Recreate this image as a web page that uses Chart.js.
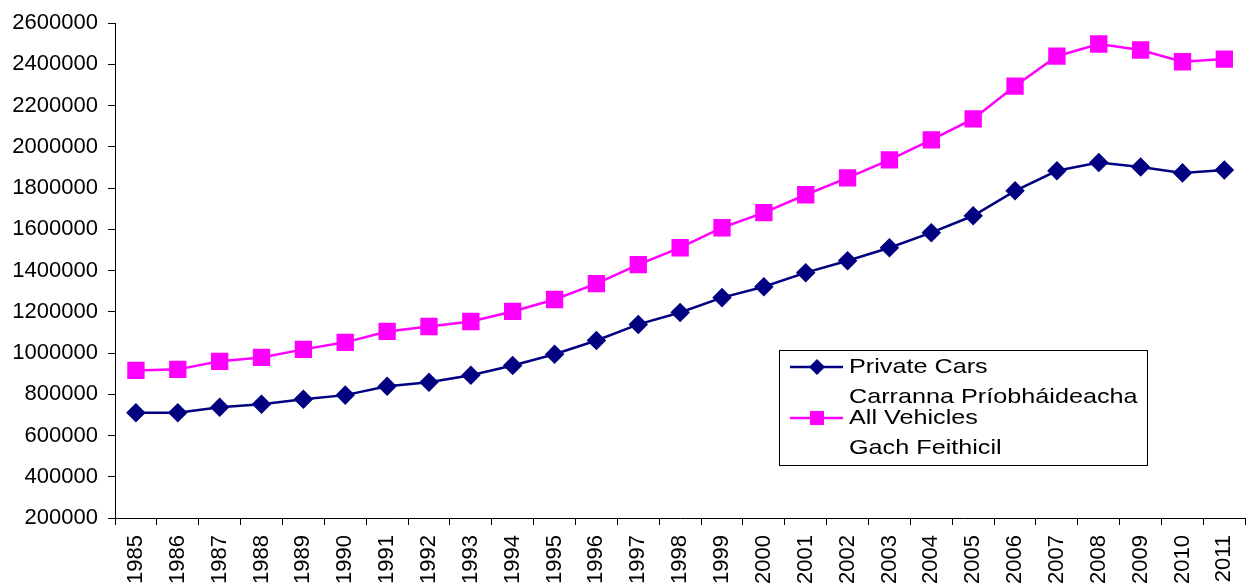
<!DOCTYPE html>
<html>
<head>
<meta charset="utf-8">
<script src="https://cdn.jsdelivr.net/npm/chart.js@4/dist/chart.umd.min.js"></script>
<style>
  html, body { margin: 0; padding: 0; background: #fff; overflow: hidden; width: 1246px; height: 588px; }
  canvas { display: block; }
</style>
</head>
<body>
<!-- a bit wider than the window: the plot runs right up to the edge -->
<canvas id="chart" width="1261" height="588"></canvas>
<script>
// ── data ─────────────────────────────────────────────
const years = ['1985','1986','1987','1988','1989','1990','1991','1992','1993','1994',
               '1995','1996','1997','1998','1999','2000','2001','2002','2003','2004',
               '2005','2006','2007','2008','2009','2010','2011'];

const privateCars = [711000, 711000, 737000, 752000, 776000, 796000, 839000, 858000, 892000, 940000,
                     994000, 1061000, 1139000, 1197000, 1269000, 1322000, 1390000, 1448000, 1511000, 1584000,
                     1666000, 1787000, 1884000, 1924000, 1903000, 1874000, 1888000];

const allVehicles = [916000, 921000, 960000, 979000, 1018000, 1052000, 1105000, 1129000, 1153000, 1202000,
                     1260000, 1337000, 1429000, 1511000, 1608000, 1681000, 1768000, 1850000, 1937000, 2034000,
                     2136000, 2295000, 2440000, 2499000, 2470000, 2413000, 2426000];

const legendLines = [
  ['Private Cars', 'Carranna Príobháideacha'],
  ['All Vehicles', 'Gach Feithicil']
];

const NAVY = '#000080';
const MAGENTA = '#ff00ff';
const FONT = 'Arial, "Liberation Sans", sans-serif';

// ── legend box drawn inside the plot ─────────────────
const boxLegend = {
  id: 'boxLegend',
  afterDraw(chart) {
    const ctx = chart.ctx;
    const x0 = 779, y0 = 350, w = 368, h = 115;
    ctx.save();
    ctx.fillStyle = '#fff';
    ctx.fillRect(x0, y0, w, h);
    ctx.strokeStyle = '#000';
    ctx.lineWidth = 1;
    ctx.strokeRect(x0 + 0.5, y0 + 0.5, w, h);
    const rows = [367, 418];
    chart.data.datasets.forEach((ds, i) => {
      const y = rows[i];
      ctx.strokeStyle = ds.borderColor;
      ctx.lineWidth = 2.5;
      ctx.beginPath();
      ctx.moveTo(790, y);
      ctx.lineTo(843, y);
      ctx.stroke();
      ctx.fillStyle = ds.pointBackgroundColor;
      ctx.beginPath();
      if (ds.pointStyle === 'rectRot') {
        ctx.moveTo(817, y - 8); ctx.lineTo(825, y); ctx.lineTo(817, y + 8); ctx.lineTo(809, y);
      } else {
        ctx.rect(810, y - 7, 14, 14);
      }
      ctx.closePath();
      ctx.fill();
      // text is a little wider than tall in the original
      ctx.fillStyle = '#000';
      ctx.font = '21px ' + FONT;
      ctx.textBaseline = 'middle';
      ctx.save();
      ctx.translate(849, y);
      ctx.scale(1.2, 1);
      ctx.fillText(legendLines[i][0], 0, 0);
      ctx.fillText(legendLines[i][1], 0, 30);
      ctx.restore();
    });
    ctx.restore();
  }
};

new Chart(document.getElementById('chart'), {
  type: 'line',
  data: {
    labels: years,
    datasets: [
      {
        label: 'Private Cars',
        data: privateCars,
        borderColor: NAVY,
        backgroundColor: NAVY,
        pointBackgroundColor: NAVY,
        pointBorderColor: NAVY,
        pointStyle: 'rectRot',
        pointRadius: 8,
        borderWidth: 2.5,
        tension: 0
      },
      {
        label: 'All Vehicles',
        data: allVehicles,
        borderColor: MAGENTA,
        backgroundColor: MAGENTA,
        pointBackgroundColor: MAGENTA,
        pointBorderColor: MAGENTA,
        pointStyle: 'rect',
        pointRadius: 10.5,
        borderWidth: 2.5,
        tension: 0
      }
    ]
  },
  options: {
    responsive: false,
    animation: false,
    layout: { padding: { top: 21, right: 0, left: 0, bottom: 0 } },
    plugins: {
      legend: { display: false },
      tooltip: { enabled: false }
    },
    scales: {
      x: {
        offset: true,
        grid: { display: true, drawOnChartArea: false, tickLength: 7, color: '#000', offset: true },
        border: { color: '#000', width: 1 },
        ticks: {
          color: '#000',
          font: { family: FONT, size: 22 },
          minRotation: 90,
          maxRotation: 90,
          autoSkip: false,
          padding: 10
        },
        afterFit(scale) { scale.height = 70; }
      },
      y: {
        min: 200000,
        max: 2600000,
        grid: { display: true, drawOnChartArea: false, tickLength: 7, color: '#000' },
        border: { color: '#000', width: 1 },
        ticks: {
          stepSize: 200000,
          color: '#000',
          font: { family: FONT, size: 22 },
          padding: 10,
          callback: v => String(v)
        },
        afterFit(scale) { scale.width = 115; }
      }
    }
  },
  plugins: [boxLegend]
});
</script>
</body>
</html>
